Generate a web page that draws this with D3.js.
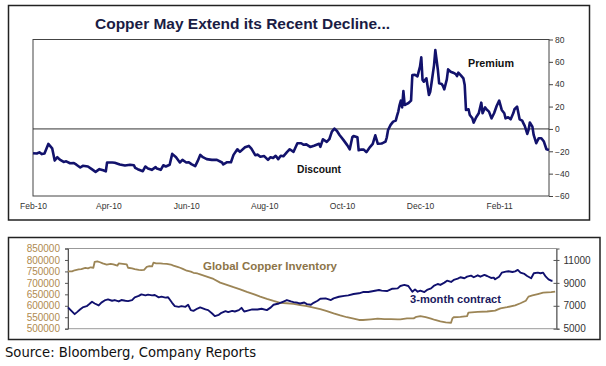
<!DOCTYPE html>
<html><head><meta charset="utf-8">
<script src="https://cdn.jsdelivr.net/npm/d3@7"></script>
<style>
html,body{margin:0;padding:0;background:#fff;}
svg{display:block;font-family:"Liberation Sans",Arial,sans-serif;}
</style></head>
<body><svg id="c" width="606" height="366"></svg>
<script>
// ---------- Top chart data (premium / discount, days since 1 Feb 2010) ----------
const premiumStart = "2010-02-01";
const premiumEndDay = 404;
const premiumDays = [0,3,5,7,9,12,15,17,19,21,24,26,29,32,34,37,39,43,46,49,52,55,57,58,62,64,68,72,76,79,80,82,86,88,90,93,96,97,100,102,104,107,109,112,115,117,120,122,124,127,129,131,133,136,140,144,148,149,152,155,157,160,162,166,169,171,174,176,178,181,184,186,188,190,192,194,196,199,201,204,207,210,212,214,217,220,224,225,227,230,232,234,236,238,240,243,246,248,250,251,254,255,257,259,261,264,266,268,270,273,274,276,277,278,280,282,284,285,286,287,288,289,290,291,292,294,296,297,299,301,303,304,305,306,308,310,311,312,314,315,317,318,320,321,322,324,325,327,329,331,332,333,335,337,338,339,341,342,344,345,347,349,351,352,354,355,357,359,361,363,365,367,369,370,372,374,376,377,379,381,383,384,385,387,388,389,391,392,394,396,398,400,402,404];
const premiumValues = [-21.7,-22,-21,-22.5,-22,-13.4,-17.3,-28.3,-25.3,-27.5,-29.5,-29,-30.7,-30.5,-32,-34.5,-33,-33.6,-36,-38.4,-36,-37,-38,-30,-30,-30.3,-31.8,-32.7,-32,-32.5,-34.8,-36,-37.8,-33.6,-35.4,-36.6,-34.2,-35.5,-36.6,-32.5,-33.6,-32,-22.3,-25.3,-30,-27.7,-30,-29.8,-31.5,-33.3,-28.6,-23.2,-25.3,-27,-27.7,-27.7,-30,-31.8,-29.8,-29.8,-23.2,-18.2,-20.5,-16.4,-15.2,-17.6,-23.5,-23,-24.9,-24.3,-27.7,-25.3,-26,-24,-27,-24,-24.5,-20.5,-18.2,-20.5,-12.8,-12.8,-14.2,-13.8,-16.1,-15,-13.3,-16,-9.2,-11.6,-9.2,-2.4,0.3,-1.8,-5.4,-9.8,-14.5,-18.2,-7.4,-6.3,-7.4,-19.1,-18.5,-18.5,-20.8,-16,-13.3,-5.7,-13.3,-13,-12.5,-11.3,-7.5,-1,3.6,6.5,7.4,11.6,15.5,21.4,25.3,19.3,33.9,21.4,22,23.2,25.3,48.2,48.5,47,55.7,64,43.8,42.3,45.3,30.4,33.3,40.8,57.1,70.5,52.7,40.8,40.2,38.4,35.4,44.3,53.3,51.2,50.3,49.1,47.3,50.3,47.9,45.2,39.3,17,17.6,12.5,9.5,5.7,10.4,14,23.5,14,19.3,17.6,15.5,9.5,14,20.5,25.3,17,14,9.5,10.4,8.6,14,17.6,20,8.6,7.4,5,2.7,-4.5,-0.9,5.7,2.1,-5.4,-12.8,-8.3,-8.3,-11.3,-18.2,-18.8];
const premiumTicks = [-60,-40,-20,0,20,40,60,80];
const monthTicks = ["2010-02-01","2010-04-01","2010-06-01","2010-08-01","2010-10-01","2010-12-01","2011-02-01"];

// ---------- Bottom chart data (position in period, 0..366) ----------
const periodEnd = 366;
const inventoryT = [0,3,5,8,10,13,15,17,19,20,22,24,26,29,32,34,37,38,41,44,45,48,50,53,55,57,59,61,63,64,66,69,71,74,77,79,82,84,86,89,92,94,97,99,104,109,114,119,124,129,134,139,144,149,154,159,164,169,174,179,184,189,194,199,204,209,214,218,221,227,232,237,242,247,249,254,259,261,264,268,272,275,279,283,287,288,289,294,299,300,307,314,320,324,329,335,339,343,345,348,352,356,362,365];
const inventoryValues = [750000,750000,755000,759000,760000,765000,763000,768000,766000,792000,794000,790000,785000,780000,783000,781000,775000,785000,783000,781000,766000,763000,760000,757000,756000,757000,770000,773000,772000,788000,785000,785000,784000,783000,780000,775000,770000,766000,761000,753000,749000,744000,741000,737000,727000,717000,701000,691000,681000,672000,661000,651000,640000,630000,621000,613000,611000,608000,603000,599000,592000,585000,577000,567000,558000,550000,544000,538000,538000,541000,544000,542000,542000,541000,541000,545000,545000,552000,555000,550000,544000,538000,532000,528000,526000,545000,550000,552000,555000,570000,573000,575000,579000,589000,594000,602000,611000,622000,640000,645000,651000,657000,660000,662000];
const contractT = [0,2,5,7,9,11,14,16,18,20,23,25,28,30,33,35,38,40,43,45,48,50,53,55,58,60,63,65,68,70,73,75,78,80,83,85,88,90,92,94,97,99,103,105,108,110,113,115,118,120,123,125,128,130,132,134,138,142,145,149,152,154,158,161,164,167,169,172,174,177,179,182,184,187,189,193,197,199,203,207,210,214,218,221,225,229,233,235,239,243,247,249,252,255,258,260,262,264,267,269,272,274,277,279,282,284,287,289,292,294,297,299,302,304,307,309,312,314,317,319,320,323,325,328,330,333,335,337,339,342,344,347,349,352,354,356,358,360,362,363];
const contractValues = [6860,6620,6270,6470,6680,6860,6970,7150,7350,7200,7030,7280,7500,7560,7440,7500,7380,7500,7440,7410,7500,7740,7860,8000,7910,7970,7910,7940,7740,7800,7710,7740,7260,6970,6910,6970,6910,7090,6620,6560,6760,6860,6680,6620,6330,6100,6210,6390,6530,6450,6560,6500,6620,6820,6500,6560,6680,6680,6740,6620,6860,7090,7200,7350,7500,7380,7320,7260,7200,7290,7150,7090,7260,7440,7610,7650,7500,7650,7790,7860,7910,8030,8090,8200,8200,8290,8380,8320,8290,8490,8520,8730,8820,8730,8230,8430,8230,8320,8200,8380,8520,8730,8900,8820,9020,9190,9080,9260,9370,9490,9400,9540,9630,9490,9660,9540,9690,9600,9430,9460,9310,9540,9890,9980,10010,9950,10010,10130,9890,9780,9600,9400,9840,9890,9840,9890,9540,9310,9190,9190];
const inventoryTicks = [500000,550000,600000,650000,700000,750000,800000,850000];
const contractTicks = [5000,7000,9000,11000];

const svg = d3.select("#c");
const parse = d3.timeParse("%Y-%m-%d");

// ================= TOP PANEL =================
svg.append("rect").attr("x",8.5).attr("y",5.5).attr("width",581).attr("height",214.5)
  .attr("fill","none").attr("stroke","#222").attr("stroke-width",1.5);

svg.append("text").attr("x",95).attr("y",28.5)
  .attr("font-size",14.5).attr("font-weight","bold").attr("fill","#1a1c44")
  .attr("textLength",295).attr("lengthAdjust","spacingAndGlyphs")
  .text("Copper May Extend its Recent Decline...");

const t0 = parse(premiumStart);
const xTop = d3.scaleTime().domain([t0, d3.timeDay.offset(t0, premiumEndDay)]).range([33,549]);
const yTop = d3.scaleLinear().domain([-60,80]).range([196,39.5]);

svg.append("rect").attr("x",xTop.range()[0]).attr("y",yTop(80))
  .attr("width",xTop.range()[1]-xTop.range()[0]).attr("height",yTop(-60)-yTop(80))
  .attr("fill","none").attr("stroke","#444").attr("stroke-width",1);

svg.append("line").attr("x1",xTop.range()[0]).attr("x2",xTop.range()[1])
  .attr("y1",yTop(0)).attr("y2",yTop(0)).attr("stroke","#333").attr("stroke-width",1);

const gyTop = svg.append("g").attr("transform",`translate(${xTop.range()[1]},0)`)
  .call(d3.axisRight(yTop).tickValues(premiumTicks).tickSize(4).tickPadding(2));
gyTop.select(".domain").remove();
gyTop.selectAll("line").attr("stroke","#444");
gyTop.selectAll("text").attr("font-size",8.5).attr("fill","#333").attr("font-family","Liberation Sans, Arial, sans-serif");

const gxTop = svg.append("g").attr("transform",`translate(0,${yTop(-60)})`)
  .call(d3.axisBottom(xTop).tickValues(monthTicks.map(parse)).tickFormat(d3.timeFormat("%b-%y")).tickSize(0).tickPadding(7));
gxTop.select(".domain").remove();
gxTop.selectAll("text").attr("font-size",8.5).attr("fill","#333").attr("font-family","Liberation Sans, Arial, sans-serif");

const premiumData = d3.zip(premiumDays, premiumValues);
svg.append("path").datum(premiumData)
  .attr("fill","none").attr("stroke","#12126c").attr("stroke-width",2.6).attr("stroke-linejoin","round")
  .attr("d", d3.line().x(d => xTop(d3.timeDay.offset(t0, d[0]))).y(d => yTop(d[1])));

svg.append("text").attr("x",468).attr("y",66.5).attr("font-size",10.5).attr("font-weight","bold")
  .attr("fill","#111").attr("textLength",46).attr("lengthAdjust","spacingAndGlyphs").text("Premium");
svg.append("text").attr("x",297).attr("y",172.5).attr("font-size",10.5).attr("font-weight","bold")
  .attr("fill","#111").attr("textLength",44).attr("lengthAdjust","spacingAndGlyphs").text("Discount");

// ================= BOTTOM PANEL =================
svg.append("rect").attr("x",8.5).attr("y",237.5).attr("width",591.5).attr("height",102)
  .attr("fill","none").attr("stroke","#222").attr("stroke-width",1.5);

const xBot = d3.scaleLinear().domain([0, periodEnd]).range([68,556.5]);
const yInv = d3.scaleLinear().domain([500000,850000]).range([328.7,248.5]);
const yCu = d3.scaleLinear().domain([5000,12000]).range([328.7,248.5]);

svg.append("rect").attr("x",xBot.range()[0]).attr("y",yInv(850000))
  .attr("width",xBot.range()[1]-xBot.range()[0]).attr("height",yInv(500000)-yInv(850000))
  .attr("fill","none").attr("stroke","#999").attr("stroke-width",1);

const gl = svg.append("g").attr("transform",`translate(${xBot.range()[0]},0)`)
  .call(d3.axisLeft(yInv).tickValues(inventoryTicks).tickFormat(d3.format("d")).tickSize(3).tickPadding(5));
gl.select(".domain").attr("stroke","#555");
gl.selectAll("line").attr("stroke","#555");
gl.selectAll("text").attr("font-size",10).attr("fill","#b08a50").attr("font-family","Liberation Sans, Arial, sans-serif");

const gr = svg.append("g").attr("transform",`translate(${xBot.range()[1]},0)`)
  .call(d3.axisRight(yCu).tickValues(contractTicks).tickFormat(d3.format("d")).tickSize(3).tickPadding(4));
gr.select(".domain").attr("stroke","#555");
gr.selectAll(".tick line").attr("x1",-3).attr("x2",3).attr("stroke","#555");
gr.selectAll("text").attr("font-size",10).attr("fill","#333").attr("font-family","Liberation Sans, Arial, sans-serif");

svg.append("path").datum(d3.zip(inventoryT, inventoryValues))
  .attr("fill","none").attr("stroke","#9c8556").attr("stroke-width",1.8).attr("stroke-linejoin","round")
  .attr("d", d3.line().x(d => xBot(d[0])).y(d => yInv(d[1])));

svg.append("path").datum(d3.zip(contractT, contractValues))
  .attr("fill","none").attr("stroke","#10106e").attr("stroke-width",1.9).attr("stroke-linejoin","round")
  .attr("d", d3.line().x(d => xBot(d[0])).y(d => yCu(d[1])));

svg.append("text").attr("x",203).attr("y",270).attr("font-size",10.5).attr("font-weight","bold")
  .attr("fill","#8c7448").attr("textLength",134).attr("lengthAdjust","spacingAndGlyphs").text("Global Copper Inventory");
svg.append("text").attr("x",410).attr("y",303).attr("font-size",10.5).attr("font-weight","bold")
  .attr("fill","#1a1a5e").attr("textLength",91).attr("lengthAdjust","spacingAndGlyphs").text("3-month contract");

// Source
svg.append("text").attr("x",5).attr("y",356.5).attr("font-size",13.5)
  .attr("font-family","DejaVu Sans, sans-serif").attr("fill","#111")
  .attr("textLength",251).attr("lengthAdjust","spacingAndGlyphs")
  .text("Source: Bloomberg, Company Reports");
</script></body></html>
